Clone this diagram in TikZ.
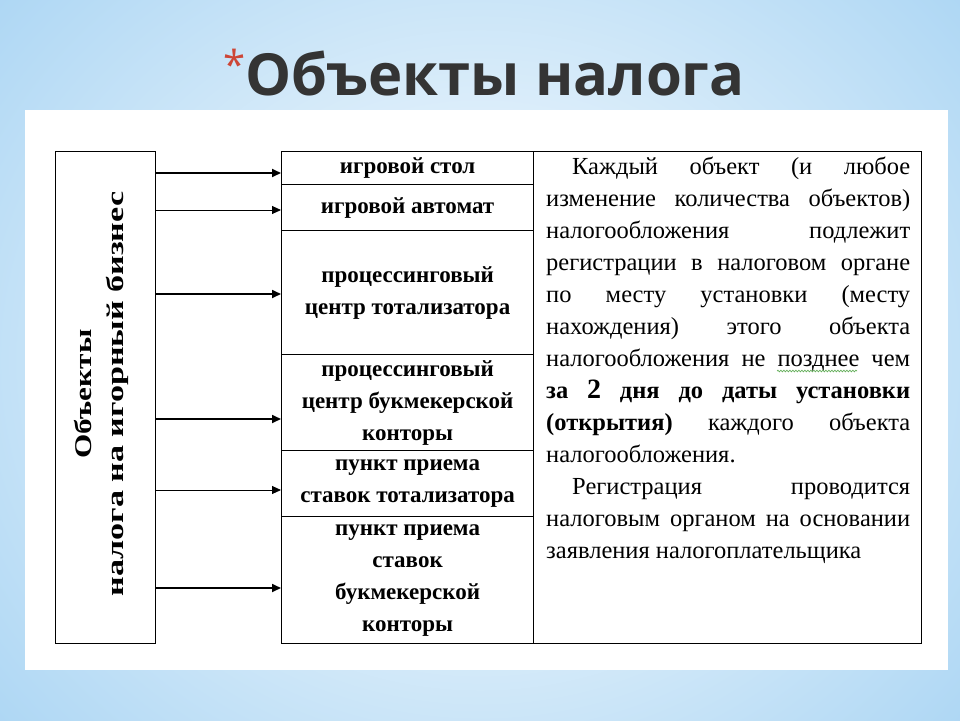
\documentclass[tikz,border=0pt]{standalone}
\usepackage{fontspec}
\setmainfont{Liberation Serif}
\newfontfamily\titlefont{Open Sans}
\usetikzlibrary{arrows.meta,decorations.pathmorphing}
\definecolor{bgblue}{RGB}{160,208,242}
\definecolor{titlegray}{RGB}{52,52,52}
\definecolor{starred}{RGB}{205,70,55}
\definecolor{spellgreen}{RGB}{100,175,90}
\newcommand{\jline}[1]{\hbox to 364pt{#1}}
\begin{document}
\begin{tikzpicture}[x=1pt,y=-1pt,
  cell/.style={draw, line width=1.2pt, minimum width=252pt, inner sep=0pt, anchor=north west,
    align=center, font=\bfseries\fontsize{23}{32}\selectfont},
  txt/.style={anchor=base west, inner sep=0pt, font=\fontsize{24.5}{32}\selectfont},
  arrthick/.style={-{Triangle[length=9pt,width=8pt]}, line width=1.7pt},
  arrthin/.style={-{Triangle[length=9pt,width=8pt]}, line width=0.9pt}]
\useasboundingbox (0,0) rectangle (960,720);
% background
\fill[bgblue] (0,0) rectangle (960,720);
\shade[inner color=white, outer color=bgblue] (-260,-300) rectangle (1220,1020);
\fill[white] (25,110) rectangle (948,670);
% title
\node[anchor=base, inner sep=0pt, text=titlegray] (title) at (484,95)
  {\titlefont\bfseries\fontsize{58}{60}\selectfont\raisebox{16pt}{\textcolor{starred}{\fontsize{40}{40}\selectfont\textmd{*}}}Объекты налога};
% left box
\node[draw, line width=1.3pt, minimum width=100pt, minimum height=492pt, inner sep=0pt, anchor=north west] (L) at (55,151) {};
\node[rotate=90, inner sep=0pt, align=center, font=\bfseries\fontsize{24}{32}\selectfont] (Lt) at (101,394)
  {\scalebox{1.3}[1]{Объекты}\\\scalebox{1.42}[1]{налога на игорный бизнес}};
% middle cells
\node[cell, minimum height=33pt] (c1) at (281,151) {игровой стол};
\node[cell, minimum height=46pt] (c2) at (281,184) {игровой автомат};
\node[cell, minimum height=124pt] (c3) at (281,230) {процессинговый\\центр тотализатора};
\node[cell, minimum height=96pt] (c4) at (281,354) {процессинговый\\центр букмекерской\\конторы};
\node[cell, minimum height=66pt] (c5) at (281,450) {пункт приема\\ставок тотализатора};
\node[cell, minimum height=127pt] (c6) at (281,516) {пункт приема\\ставок\\букмекерской\\конторы};
% right cell
\node[draw, line width=1.2pt, minimum width=388pt, minimum height=492pt, inner sep=0pt, anchor=north west] (R) at (533,151) {};
% arrows
\coordinate (a1) at (0,173);
\coordinate (a2) at (0,210);
\coordinate (a3) at (0,294);
\coordinate (a4) at (0,419);
\coordinate (a5) at (0,490);
\coordinate (a6) at (0,588);
\draw[arrthick] (L.east |- a1) -- (c1.west |- a1);
\draw[arrthin]  (L.east |- a2) -- (c2.west |- a2);
\draw[arrthick] (L.east |- a3) -- (c3.west |- a3);
\draw[arrthick] (L.east |- a4) -- (c4.west |- a4);
\draw[arrthin]  (L.east |- a5) -- (c5.west |- a5);
\draw[arrthick] (L.east |- a6) -- (c6.west |- a6);
% right text
\node[txt] (t1) at (546,174) {\jline{\hspace{26pt}Каждый\hfill объект\hfill (и\hfill любое}};
\node[txt] (t2) at (546,206) {\jline{изменение\hfill количества\hfill объектов)}};
\node[txt] (t3) at (546,238) {\jline{налогообложения\hfill подлежит}};
\node[txt] (t4) at (546,270) {\jline{регистрации\hfill в\hfill налоговом\hfill органе}};
\node[txt] (t5) at (546,302) {\jline{по\hfill месту\hfill установки\hfill (месту}};
\node[txt] (t6) at (546,334) {\jline{нахождения)\hfill этого\hfill объекта}};
\node[txt] (t7) at (546,366) {\jline{налогообложения\hfill не\hfill позднее\hfill чем}};
\node[txt] (t8) at (546,398) {\jline{\bfseries за\hfill {\fontsize{28}{32}\selectfont 2}\hfill дня\hfill до\hfill даты\hfill установки}};
\node[txt] (t9) at (546,430) {\jline{\textbf{(открытия)}\hfill каждого\hfill объекта}};
\node[txt] (t10) at (546,462) {налогообложения.};
\node[txt] (t11) at (546,494) {\jline{\hspace{26pt}Регистрация\hfill проводится}};
\node[txt] (t12) at (546,526) {\jline{налоговым\hfill органом\hfill на\hfill основании}};
\node[txt] (t13) at (546,558) {заявления налогоплательщика};
% spell-check underline
\coordinate (w1) at (777,371);
\coordinate (w2) at (857,371);
\draw[spellgreen, line width=0.7pt, decorate, decoration={snake, amplitude=0.8pt, segment length=3pt}] (w1) -- (w2);
\end{tikzpicture}
\end{document}
